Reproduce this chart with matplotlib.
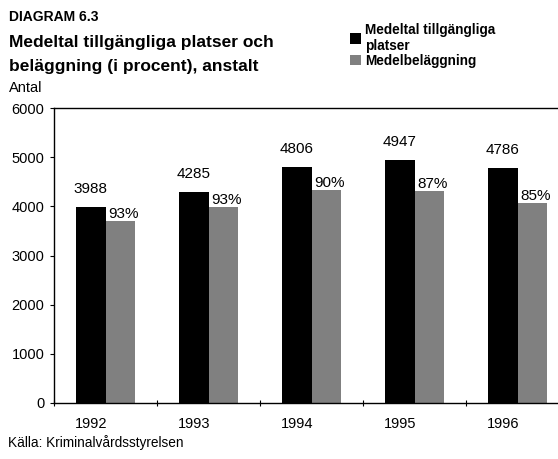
import matplotlib.pyplot as plt
import numpy as np
from matplotlib.transforms import ScaledTranslation

plt.rcParams['font.family'] = ['Liberation Sans', 'DejaVu Sans']

years = ['1992', '1993', '1994', '1995', '1996']
platser = [3988, 4285, 4806, 4947, 4786]
belaggning = [3705, 3990, 4330, 4305, 4060]
procent = ['93%', '93%', '90%', '87%', '85%']

fig = plt.figure(figsize=(5.58, 4.59), dpi=100)
# plot area runs to the right edge of the picture, last category is cut off
ax = fig.add_axes([54 / 558, 1 - 403 / 459, 1 - 54 / 558, 295 / 459])

x = np.arange(len(years))
w = 0.29
b1 = ax.bar(x - w / 2, platser, w, color='black', label='Medeltal tillgängliga\nplatser')
b2 = ax.bar(x + w / 2, belaggning, w, color='#808080', label='Medelbeläggning')

for i in range(len(years)):
    ax.annotate(str(platser[i]), (x[i] - w / 2, platser[i]), xytext=(0, 8),
                textcoords='offset points', ha='center', va='bottom', fontsize=11)
    ax.annotate(procent[i], (x[i], belaggning[i]), xytext=(2, 0),
                textcoords='offset points', ha='left', va='bottom', fontsize=11)

ax.set_xlim(-0.5, -0.5 + 504 / 103)
ax.set_ylim(0, 6000)
ax.set_yticks(range(0, 6001, 1000))
ax.tick_params(axis='y', length=3, labelsize=10.5, pad=4)

# boundary ticks, labels on minor ticks
ax.set_xticks(np.arange(len(years)) - 0.5)
ax.set_xticklabels([])
ax.set_xticks(x, minor=True)
ax.set_xticklabels(years, minor=True, fontsize=10.5)
ax.tick_params(axis='x', which='major', length=5, direction='inout')
ax.tick_params(axis='x', which='minor', length=0, pad=10)
off = ScaledTranslation(-14 / 100, 0, fig.dpi_scale_trans)
for lab in ax.get_xticklabels(minor=True):
    lab.set_transform(lab.get_transform() + off)

for s in ax.spines.values():
    s.set_linewidth(1.0)
ax.spines['right'].set_visible(False)

fig.text(9 / 558, 1 - 17 / 459, 'DIAGRAM 6.3', fontsize=10, fontweight='bold', va='center')
fig.text(9 / 558, 1 - 43 / 459, 'Medeltal tillgängliga platser och', fontsize=12.5,
         fontweight='bold', va='center')
fig.text(9 / 558, 1 - 67 / 459, 'beläggning (i procent), anstalt', fontsize=12.5,
         fontweight='bold', va='center')
fig.text(9 / 558, 1 - 88 / 459, 'Antal', fontsize=10.5, va='center')
fig.text(8 / 558, 1 - 443 / 459, 'Källa: Kriminalvårdsstyrelsen', fontsize=9.8, va='center')

fig.legend(handles=[b1, b2], loc='upper left', bbox_to_anchor=(343 / 558, 1 - 16 / 459),
           frameon=False, prop={'weight': 'bold', 'size': 9.8}, handlelength=0.8,
           handleheight=0.8, handletextpad=0.3, labelspacing=0.05, borderpad=0)

fig.savefig('out.png', dpi=100)
